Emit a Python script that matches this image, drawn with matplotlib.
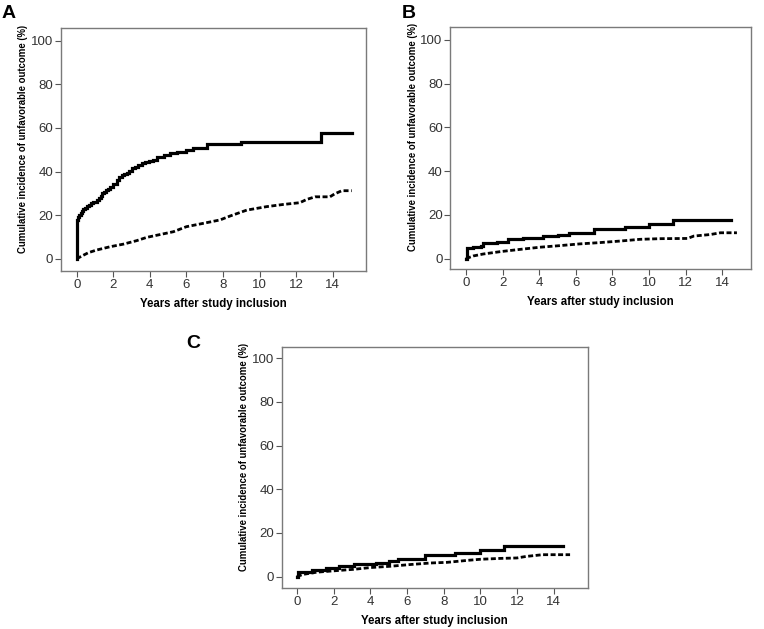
import matplotlib
matplotlib.use("Agg")
import matplotlib.pyplot as plt

plt.rcParams['font.family'] = ['Liberation Sans', 'DejaVu Sans']

# panel A (years, cumulative incidence %)
a_solid_x = [0, 0.01, 0.05, 0.09, 0.15, 0.22, 0.29, 0.36, 0.45, 0.55, 0.66, 0.77, 0.9, 1.0,
             1.12, 1.24, 1.31, 1.37, 1.48, 1.6, 1.71, 1.82, 2.0, 2.19, 2.33, 2.46, 2.6, 2.73,
             2.87, 3.0, 3.18, 3.37, 3.55, 3.74, 3.95, 4.15, 4.37, 4.75, 5.1, 5.47, 6.0, 6.38,
             7.1, 8.97, 13.35, 15.04]
a_solid_y = [0, 17.7, 18.6, 19.3, 20.2, 21.1, 21.9, 22.6, 23.4, 24.2, 24.8, 25.4, 25.8, 26.1,
             26.9, 27.7, 28.9, 30.0, 30.8, 31.5, 32.2, 33.0, 34.5, 36.1, 37.3, 38.4, 38.9, 39.4,
             40.4, 41.4, 42.2, 43.0, 43.8, 44.5, 45.0, 45.4, 46.8, 47.6, 48.3, 49.1, 49.8, 50.6,
             52.4, 53.5, 57.5, 57.5]
a_dash_x = [0, 0.27, 0.64, 1.09, 1.82, 2.55, 3.28, 3.83, 4.56, 5.29, 6.0, 6.9, 7.84, 8.39,
            9.3, 10.39, 11.3, 12.2, 12.58, 13.04, 13.85, 14.1, 14.5, 15.04]
a_dash_y = [0, 1.2, 2.8, 4.0, 5.5, 6.7, 8.3, 9.8, 11.1, 12.4, 14.7, 16.2, 17.8, 19.6,
            22.3, 23.9, 24.9, 25.7, 27.2, 28.4, 28.4, 29.7, 31.2, 31.2]

# panel B
b_solid_x = [0, 0.07, 0.4, 0.8, 0.95, 1.7, 2.3, 3.1, 4.2, 5.0, 5.6, 7.0, 8.7, 10.0, 11.3, 14.5]
b_solid_y = [0, 4.7, 5.4, 5.9, 7.0, 7.6, 8.8, 9.4, 10.3, 11.0, 11.8, 13.3, 14.5, 16.0, 17.6, 17.6]
b_dash_x = [0, 0.4, 0.95, 1.9, 2.95, 4.05, 5.1, 6.2, 7.3, 8.4, 9.5, 10.6, 12.1, 12.45,
            13.35, 13.9, 14.8]
b_dash_y = [0, 1.2, 2.1, 3.2, 4.2, 5.2, 5.9, 6.7, 7.3, 8.0, 8.8, 9.1, 9.2, 10.3,
            11.0, 11.8, 11.8]

# panel C
c_solid_x = [0, 0.04, 0.8, 1.6, 2.3, 3.1, 4.3, 5.0, 5.5, 7.0, 8.6, 10.0, 11.3, 14.5]
c_solid_y = [0, 2.1, 2.9, 3.9, 4.8, 5.6, 6.4, 7.1, 7.9, 9.7, 10.9, 12.3, 14.2, 14.2]
c_dash_x = [0, 0.35, 1.1, 2.0, 3.1, 4.0, 5.1, 6.2, 7.3, 8.2, 9.3, 10.0, 11.1, 12.0, 12.5,
            13.4, 14.9]
c_dash_y = [0, 1.0, 2.0, 2.6, 3.3, 4.1, 4.7, 5.5, 6.2, 6.5, 7.4, 7.9, 8.3, 8.5, 9.2,
            10.0, 10.0]

x_ticks = [0, 2, 4, 6, 8, 10, 12, 14]
y_ticks = [0, 20, 40, 60, 80, 100]
x_label = "Years after study inclusion"
y_label = "Cumulative incidence of unfavorable outcome (%)"


def draw_panel(ax, sx, sy, dx, dy, xlim, ylim):
    ax.plot(sx, sy, drawstyle='steps-post', color='black', lw=2.3,
            solid_joinstyle='miter')
    ax.plot(dx, dy, color='black', lw=2.0, linestyle=(0, (1.8, 0.9)))
    ax.set_xlim(*xlim)
    ax.set_ylim(*ylim)
    ax.set_xticks(x_ticks)
    ax.set_yticks(y_ticks)
    for sp in ax.spines.values():
        sp.set_color('#7a7a7a')
        sp.set_linewidth(1.0)
    ax.tick_params(direction='out', length=4, width=0.8, color='#555555',
                   labelsize=9.5, labelcolor='#333333', pad=1.5)
    ax.set_xlabel(x_label, fontsize=8.3, fontweight='bold', labelpad=5)
    ax.set_ylabel(y_label, fontsize=6.9, fontweight='bold')
    ax.yaxis.set_label_coords(-0.108, 0.545)
    return ax


fig = plt.figure(figsize=(7.64, 6.29), dpi=100)

ax_a = fig.add_axes([0.0798, 0.5692, 0.3992, 0.3863])
draw_panel(ax_a, a_solid_x, a_solid_y, a_dash_x, a_dash_y, (-0.86, 15.82), (-5.6, 105.8))

ax_b = fig.add_axes([0.5894, 0.5719, 0.3936, 0.3847])
draw_panel(ax_b, b_solid_x, b_solid_y, b_dash_x, b_dash_y, (-0.86, 15.57), (-4.9, 105.8))

ax_c = fig.add_axes([0.3687, 0.0647, 0.4005, 0.3841])
draw_panel(ax_c, c_solid_x, c_solid_y, c_dash_x, c_dash_y, (-0.83, 15.86), (-5.4, 105.3))

# panel letters
fig.text(2 / 764, 1 - 17.5 / 629, "A", fontsize=14, fontweight='bold')
fig.text(402 / 764, 1 - 17.5 / 629, "B", fontsize=14, fontweight='bold')
fig.text(186 / 764, 1 - 348.5 / 629, "C", fontsize=14, fontweight='bold')

fig.savefig("out.png", dpi=100)
